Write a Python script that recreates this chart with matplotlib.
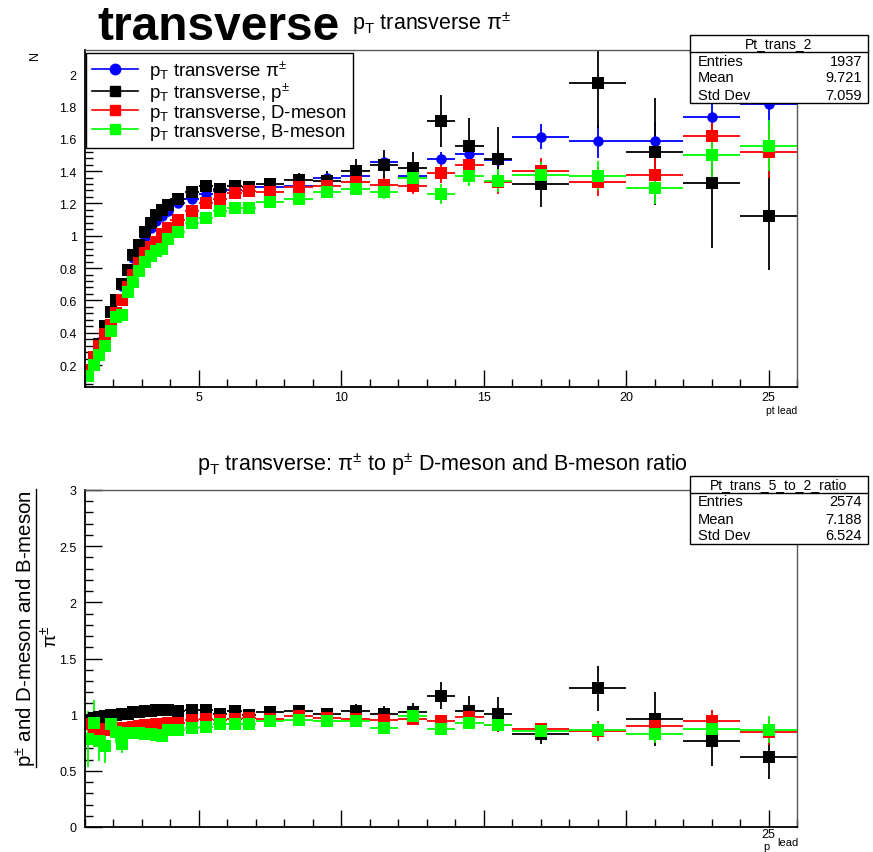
import numpy as np
import matplotlib
matplotlib.use('Agg')
import matplotlib.pyplot as plt
from matplotlib.lines import Line2D
from matplotlib.patches import Rectangle
from matplotlib.ticker import MultipleLocator, FixedLocator

plt.rcParams['font.family'] = ['Liberation Sans', 'DejaVu Sans']
plt.rcParams['mathtext.fontset'] = 'custom'
plt.rcParams['mathtext.rm'] = 'Liberation Sans'
plt.rcParams['mathtext.it'] = 'Liberation Sans:italic'
plt.rcParams['mathtext.bf'] = 'Liberation Sans:bold'

# variable pt binning
bin_edges = [1.0, 1.2, 1.4, 1.6, 1.8, 2.0, 2.2, 2.4, 2.6, 2.8, 3.0, 3.2, 3.4, 3.6, 3.8, 4.0,
             4.5, 5.0, 5.5, 6.0, 6.5, 7.0, 8, 9, 10, 11, 12, 13, 14, 15, 16, 18, 20, 22, 24, 26]

# pT transverse spectra
pion = [0.14, 0.24, 0.34, 0.445, 0.53, 0.60, 0.69, 0.78, 0.86, 0.92, 0.99, 1.05, 1.09, 1.12, 1.15,
        1.20, 1.23, 1.26, 1.275, 1.28, 1.30, 1.30, 1.31, 1.355, 1.372, 1.455, 1.368, 1.475, 1.507,
        1.47, 1.613, 1.583, 1.585, 1.734, 1.816]
pion_err = [0.005, 0.006, 0.007, 0.008, 0.008, 0.009, 0.009, 0.01, 0.01, 0.01, 0.011, 0.011, 0.012,
            0.012, 0.013, 0.012, 0.013, 0.014, 0.016, 0.018, 0.02, 0.018, 0.022, 0.026, 0.03, 0.035,
            0.04, 0.045, 0.05, 0.055, 0.077, 0.1, 0.12, 0.15, 0.2]
proton = [0.13, 0.23, 0.33, 0.44, 0.53, 0.60, 0.70, 0.79, 0.88, 0.94, 1.02, 1.08, 1.13, 1.16, 1.19,
          1.23, 1.27, 1.31, 1.29, 1.31, 1.30, 1.32, 1.345, 1.34, 1.40, 1.44, 1.417, 1.709, 1.558,
          1.475, 1.32, 1.946, 1.52, 1.327, 1.12]
proton_err = [0.008, 0.01, 0.011, 0.012, 0.013, 0.014, 0.015, 0.016, 0.017, 0.018, 0.019, 0.02,
              0.021, 0.022, 0.023, 0.02, 0.022, 0.025, 0.027, 0.03, 0.033, 0.03, 0.045, 0.06, 0.077,
              0.088, 0.1, 0.16, 0.17, 0.2, 0.145, 0.28, 0.33, 0.40, 0.33]
dmeson = [0.17, 0.25, 0.32, 0.39, 0.45, 0.52, 0.60, 0.68, 0.76, 0.83, 0.89, 0.93, 0.96, 1.01, 1.05,
          1.10, 1.155, 1.20, 1.225, 1.265, 1.275, 1.27, 1.30, 1.31, 1.33, 1.315, 1.31, 1.389, 1.44,
          1.33, 1.40, 1.335, 1.378, 1.616, 1.517]
dmeson_err = [0.006, 0.007, 0.008, 0.009, 0.009, 0.01, 0.01, 0.011, 0.011, 0.012, 0.012, 0.013,
              0.013, 0.014, 0.014, 0.013, 0.014, 0.016, 0.018, 0.02, 0.022, 0.02, 0.025, 0.03, 0.04,
              0.045, 0.05, 0.06, 0.065, 0.07, 0.08, 0.09, 0.12, 0.13, 0.16]
bmeson = [0.13, 0.20, 0.26, 0.32, 0.41, 0.495, 0.51, 0.65, 0.716, 0.784, 0.835, 0.873, 0.908, 0.918,
          0.98, 1.02, 1.08, 1.108, 1.15, 1.17, 1.17, 1.207, 1.228, 1.27, 1.29, 1.273, 1.358, 1.259,
          1.372, 1.34, 1.376, 1.372, 1.296, 1.50, 1.558]
bmeson_err = [0.006, 0.007, 0.008, 0.009, 0.009, 0.01, 0.01, 0.011, 0.011, 0.012, 0.012, 0.013,
              0.013, 0.014, 0.014, 0.013, 0.014, 0.016, 0.018, 0.02, 0.022, 0.02, 0.025, 0.03, 0.04,
              0.045, 0.05, 0.06, 0.065, 0.07, 0.08, 0.09, 0.1, 0.14, 0.16]

# ratios to pi+-
ratio_proton = [0.95, 0.97, 0.98, 0.99, 1.0, 1.0, 1.01, 1.01, 1.02, 1.02, 1.03, 1.03, 1.04, 1.04, 1.04,
                1.036, 1.042, 1.042, 1.006, 1.036, 1.0, 1.02, 1.036, 1.006, 1.036, 1.006, 1.02, 1.17,
                1.036, 1.006, 0.828, 1.235, 0.962, 0.769, 0.62]
ratio_proton_err = [0.03, 0.025, 0.02, 0.02, 0.02, 0.02, 0.02, 0.02, 0.02, 0.02, 0.02, 0.02, 0.02, 0.02,
                    0.02, 0.02, 0.02, 0.02, 0.025, 0.025, 0.03, 0.03, 0.04, 0.045, 0.06, 0.07, 0.08,
                    0.12, 0.13, 0.15, 0.09, 0.2, 0.24, 0.23, 0.19]
ratio_dmeson = [0.92, 0.88, 0.87, 0.86, 0.87, 0.87, 0.88, 0.88, 0.89, 0.90, 0.91, 0.91, 0.92, 0.92,
                0.93, 0.93, 0.95, 0.96, 0.95, 0.96, 0.97, 0.96, 0.99, 0.97, 0.96, 0.955, 0.96, 0.947,
                0.977, 0.908, 0.873, 0.858, 0.902, 0.941, 0.843]
ratio_dmeson_err = [0.08, 0.06, 0.05, 0.04, 0.04, 0.03, 0.03, 0.03, 0.03, 0.03, 0.03, 0.03, 0.03, 0.03,
                    0.03, 0.02, 0.02, 0.02, 0.02, 0.02, 0.02, 0.02, 0.025, 0.03, 0.03, 0.035, 0.04,
                    0.05, 0.05, 0.06, 0.05, 0.09, 0.08, 0.1, 0.11]
ratio_bmeson = [0.78, 0.93, 0.77, 0.72, 0.92, 0.85, 0.74, 0.84, 0.84, 0.84, 0.83, 0.83, 0.82, 0.81,
                0.86, 0.86, 0.88, 0.886, 0.917, 0.917, 0.917, 0.94, 0.955, 0.94, 0.947, 0.88, 0.99,
                0.873, 0.926, 0.908, 0.858, 0.867, 0.828, 0.873, 0.864]
ratio_bmeson_err = [0.25, 0.2, 0.18, 0.15, 0.12, 0.1, 0.08, 0.06, 0.05, 0.04, 0.03, 0.03, 0.03, 0.03,
                    0.03, 0.02, 0.02, 0.02, 0.02, 0.02, 0.02, 0.02, 0.025, 0.03, 0.03, 0.035, 0.04,
                    0.05, 0.05, 0.05, 0.05, 0.07, 0.08, 0.1, 0.12]

stats_top = ['Pt_trans_2', ('Entries', '1937'), ('Mean', '9.721'), ('Std Dev', '7.059')]
stats_bottom = ['Pt_trans_5_to_2_ratio', ('Entries', '2574'), ('Mean', '7.188'), ('Std Dev', '6.524')]

edges = np.array(bin_edges)
centers = 0.5 * (edges[1:] + edges[:-1])
half_w = 0.5 * (edges[1:] - edges[:-1])

W, H = 873, 853
fig = plt.figure(figsize=(W / 100, H / 100), dpi=100)


def fx(px):
    return px / W


def fy(py):
    return 1 - py / H


def style_axes(ax):
    ax.tick_params(which='both', direction='in', top=False, right=False, labelsize=9,
                   colors='black')
    ax.tick_params(which='major', length=12, width=1)
    ax.tick_params(which='minor', length=6, width=1)
    ax.tick_params(axis='y', pad=6)
    ax.tick_params(axis='x', pad=3)
    for s in ['left', 'bottom']:
        ax.spines[s].set_linewidth(1.3)
    for s in ['top', 'right']:
        ax.spines[s].set_linewidth(1.0)
        ax.spines[s].set_color('0.35')


def draw_series(ax, y, err, color, marker, ms):
    ax.errorbar(centers, y, xerr=half_w, yerr=err, fmt=marker, color=color, ms=ms, mec=color,
                mew=0, elinewidth=1.3, ecolor=color, capsize=0)


# upper panel: spectra
ax1 = fig.add_axes([fx(85), fy(388), fx(797) - fx(85), fy(51) - fy(388)])
style_axes(ax1)
draw_series(ax1, pion, pion_err, 'blue', 'o', 7.5)
draw_series(ax1, proton, proton_err, 'black', 's', 8.5)
draw_series(ax1, dmeson, dmeson_err, 'red', 's', 8.5)
draw_series(ax1, bmeson, bmeson_err, '#00ff00', 's', 8.5)
ax1.set_xlim(1, 26)
ax1.set_ylim(0.064, 2.149)
ax1.xaxis.set_major_locator(FixedLocator([5, 10, 15, 20, 25]))
ax1.xaxis.set_minor_locator(MultipleLocator(1))
ax1.yaxis.set_major_locator(FixedLocator([0.2, 0.4, 0.6, 0.8, 1, 1.2, 1.4, 1.6, 1.8, 2]))
ax1.yaxis.set_minor_locator(MultipleLocator(0.04))
ax1.set_yticklabels(['0.2', '0.4', '0.6', '0.8', '1', '1.2', '1.4', '1.6', '1.8', '2'])

handles = [
    Line2D([], [], color='blue', marker='o', ms=7.5, lw=1.2),
    Line2D([], [], color='black', marker='s', ms=7.5, lw=1.2),
    Line2D([], [], color='red', marker='s', ms=7.5, lw=1.2),
    Line2D([], [], color='#00ff00', marker='s', ms=7.5, lw=1.2),
]
labels = [
    r'p$_{\mathregular{T}}$ transverse $\mathregular{\pi^{\pm}}$',
    r'p$_{\mathregular{T}}$ transverse, p$^{\pm}$',
    r'p$_{\mathregular{T}}$ transverse, D-meson',
    r'p$_{\mathregular{T}}$ transverse, B-meson',
]
leg = ax1.legend(handles, labels, loc='upper left', bbox_to_anchor=(0.0015, 0.99),
                 borderaxespad=0, fontsize=13.4, frameon=True, fancybox=False,
                 edgecolor='black', framealpha=1, handlelength=2.5, handletextpad=0.6,
                 labelspacing=-0.1, borderpad=0.3)
leg.get_frame().set_linewidth(1.0)

fig.text(fx(797), fy(414), 'pt lead', ha='right', fontsize=7.5)
fig.text(fx(35), fy(55), 'N', rotation=90, ha='center', va='center', fontsize=9)

# lower panel: ratios
ax2 = fig.add_axes([fx(85), fy(828), fx(797) - fx(85), fy(491) - fy(828)])
style_axes(ax2)
draw_series(ax2, ratio_proton, ratio_proton_err, 'black', 's', 8)
draw_series(ax2, ratio_dmeson, ratio_dmeson_err, 'red', 's', 8)
draw_series(ax2, ratio_bmeson, ratio_bmeson_err, '#00ff00', 's', 8)
ax2.set_xlim(1, 26)
ax2.set_ylim(0, 3)
ax2.xaxis.set_major_locator(FixedLocator([5, 10, 15, 20, 25]))
ax2.xaxis.set_minor_locator(MultipleLocator(1))
ax2.set_xticklabels(['', '', '', '', '25'])
ax2.tick_params(axis='x', pad=0.5)
ax2.yaxis.set_major_locator(FixedLocator([0, 0.5, 1, 1.5, 2, 2.5, 3]))
ax2.yaxis.set_minor_locator(MultipleLocator(0.1))
ax2.set_yticklabels(['0', '0.5', '1', '1.5', '2', '2.5', '3'])

fig.text(fx(777), fy(846), 'lead', ha='left', fontsize=8)
fig.text(fx(766), fy(850), 'p', ha='center', va='baseline', fontsize=8)

# y title of the ratio panel as a fraction
fig.text(fx(26), fy(629), r'p$^{\pm}$ and D-meson and B-meson', rotation=90,
         ha='center', va='center', fontsize=14.8)
fig.add_artist(Line2D([fx(36), fx(36)], [fy(768), fy(490)], color='black', lw=1,
                      transform=fig.transFigure))
fig.text(fx(50), fy(637), r'$\mathregular{\pi^{\pm}}$', rotation=90, ha='center', va='center',
         fontsize=14)

# titles
fig.text(fx(97), fy(40), 'transverse', fontsize=34.5, weight='bold', va='baseline')
fig.text(fx(352), fy(30), r'p$_{\mathregular{T}}$ transverse $\mathregular{\pi^{\pm}}$',
         fontsize=15.5, va='baseline')
fig.text(fx(442), fy(471),
         r'p$_{\mathregular{T}}$ transverse: $\mathregular{\pi^{\pm}}$ to p$^{\pm}$ D-meson and B-meson ratio',
         ha='center', va='baseline', fontsize=15.5)


def stats_box(top, rows):
    x0, x1 = 690, 868
    row_h = 17
    y1 = top + row_h * 4
    fig.add_artist(Rectangle((fx(x0), fy(y1)), fx(x1) - fx(x0), fy(top) - fy(y1),
                             transform=fig.transFigure, facecolor='white',
                             edgecolor='black', lw=1, zorder=5))
    fig.add_artist(Line2D([fx(x0), fx(x1)], [fy(top + row_h), fy(top + row_h)], color='black',
                          lw=1, transform=fig.transFigure, zorder=6))
    fig.text(fx((x0 + x1) / 2), fy(top + row_h / 2), rows[0], ha='center', va='center',
             fontsize=10, zorder=7)
    for i, (name, val) in enumerate(rows[1:]):
        yc = top + row_h * (i + 1.5)
        fig.text(fx(x0 + 8), fy(yc), name, ha='left', va='center', fontsize=10.5, zorder=7)
        fig.text(fx(x1 - 6), fy(yc), val, ha='right', va='center', fontsize=10.5, zorder=7)


stats_box(36, stats_top)
stats_box(477, stats_bottom)

fig.savefig('out.png', dpi=100)
